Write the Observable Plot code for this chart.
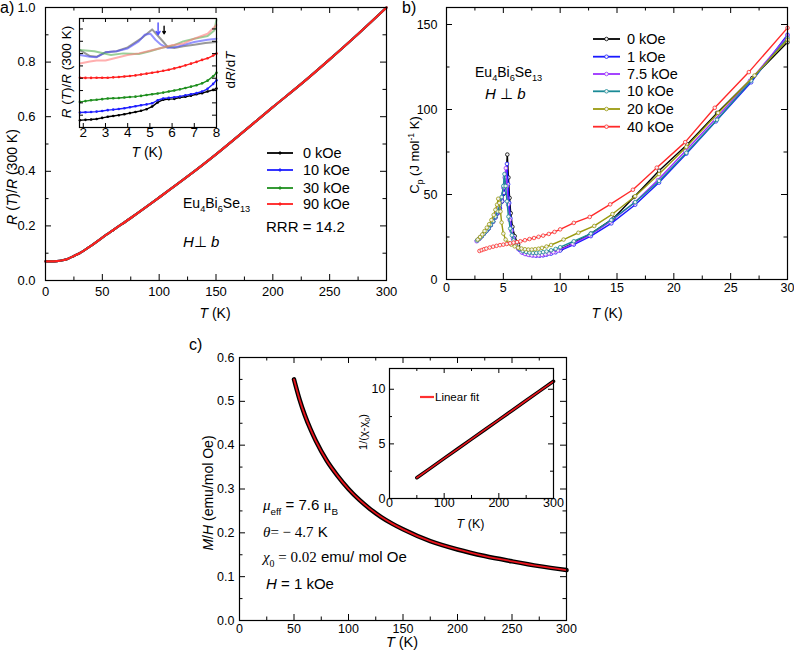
<!DOCTYPE html>
<html><head><meta charset="utf-8">
<script src="https://cdn.jsdelivr.net/npm/d3@7"></script>
<script src="https://cdn.jsdelivr.net/npm/@observablehq/plot@0.6"></script>
<style>body{margin:0;background:#fff}#fig{position:relative;width:794px;height:659px;background:#fff;overflow:hidden}</style>
</head><body><div id="fig"></div>
<script>
// ---------------- DATA ----------------
// Panel a: R(T)/R(300 K) vs T (all fields overlap)
const aFields = ["0 kOe", "10 kOe", "30 kOe", "90 kOe"];
const aColors = ["#000000", "#1f1fff", "#1f8f1f", "#ff1f1f"];
const aT = [0, 5, 10, 15, 20, 25, 30, 40, 50, 60, 75, 100, 125, 150, 175, 200, 225, 250, 275, 300];
const aR = [0.070, 0.070, 0.071, 0.074, 0.080, 0.090, 0.100, 0.127, 0.157, 0.186, 0.229, 0.304, 0.381, 0.462, 0.548, 0.635, 0.720, 0.810, 0.903, 1.000];
const aXTicks = [0, 50, 100, 150, 200, 250, 300];
const aYTicks = [0, 0.2, 0.4, 0.6, 0.8, 1.0];

// Panel a inset (arbitrary offset units): R(T)/R(300K) curves
const inT = [1.85, 2.1, 2.35, 2.6, 2.85, 3.1, 3.35, 3.6, 3.85, 4.1, 4.35, 4.6, 4.85, 5.1, 5.35, 5.6, 5.85, 6.1, 6.35, 6.6, 6.85, 7.1, 7.35, 7.6, 7.85, 8.0];
const inR0 = [0.67, 0.70, 0.73, 0.78, 0.88, 0.98, 1.05, 1.13, 1.22, 1.32, 1.42, 1.53, 1.68, 1.92, 2.30, 2.55, 2.60, 2.63, 2.75, 2.82, 2.92, 3.05, 3.15, 3.30, 3.45, 3.58];
const inR10 = [1.38, 1.40, 1.42, 1.46, 1.52, 1.59, 1.64, 1.70, 1.77, 1.86, 1.95, 2.04, 2.12, 2.22, 2.50, 2.66, 2.72, 2.78, 2.85, 2.95, 3.05, 3.15, 3.30, 3.55, 4.00, 4.34];
const inR30 = [2.35, 2.42, 2.50, 2.54, 2.60, 2.66, 2.68, 2.70, 2.75, 2.80, 2.83, 2.90, 2.98, 3.05, 3.12, 3.20, 3.30, 3.40, 3.50, 3.62, 3.75, 3.88, 4.05, 4.30, 4.70, 5.02];
const inR90 = [4.56, 4.55, 4.55, 4.56, 4.56, 4.57, 4.60, 4.63, 4.68, 4.72, 4.78, 4.86, 4.94, 5.02, 5.10, 5.20, 5.30, 5.42, 5.55, 5.70, 5.86, 6.02, 6.20, 6.35, 6.60, 6.79];
// dR/dT curves
const dT0 = [1.85, 2.3, 2.6, 3.0, 3.5, 4.0, 4.6, 5.1, 5.5, 5.8, 6.1, 6.5, 7.0, 7.5, 8.0];
const dV0 = [7.1, 6.55, 6.48, 6.9, 7.0, 7.35, 8.15, 9.0, 8.1, 7.4, 7.3, 7.45, 7.6, 7.75, 7.85];
const dT10 = [1.85, 2.3, 2.6, 3.0, 3.5, 4.0, 4.5, 4.76, 5.03, 5.25, 5.5, 5.8, 6.2, 7.0, 7.6, 8.0];
const dV10 = [6.65, 6.5, 6.45, 6.9, 7.0, 7.25, 7.9, 8.5, 8.6, 8.05, 7.6, 7.3, 7.4, 7.85, 8.05, 8.15];
const dT30 = [1.85, 2.5, 3.25, 3.8, 4.5, 5.0, 5.5, 6.1, 6.5, 7.0, 7.6, 7.9, 8.0];
const dV30 = [7.1, 7.0, 6.65, 6.8, 6.75, 7.0, 7.3, 7.55, 7.9, 8.15, 8.4, 8.9, 9.9];
const dT90 = [1.85, 2.3, 2.6, 3.0, 3.5, 4.0, 4.5, 5.0, 5.5, 6.0, 6.5, 7.0, 7.6, 8.0];
const dV90 = [5.87, 6.05, 6.15, 6.15, 6.4, 6.65, 6.8, 7.05, 7.3, 7.55, 7.7, 8.15, 8.6, 9.4];
const dColors = ["#555555", "#4d4dff", "#55b055", "#ff7a7a"];
const arrowT = [5.37, 5.64];
const arrowTop = [9.6, 9.3];
const arrowTip = [8.5, 8.6];
const arrowColors = ["#4d4dff", "#000000"];
const inXTicks = [2, 3, 4, 5, 6, 7, 8];
const inYTicks = [1.13, 2.26, 3.39, 4.52, 5.65, 6.78, 7.91, 9.04];

// Panel b: Cp vs T
const bFields = ["0 kOe", "1 kOe", "7.5 kOe", "10 kOe", "20 kOe", "40 kOe"];
const bColors = ["#000000", "#1a1aff", "#9b30ff", "#1a8a96", "#9a9a10", "#ff2a2a"];
const bT0 = [2.7, 2.9, 3.1, 3.3, 3.5, 3.7, 3.9, 4.1, 4.3, 4.5, 4.7, 4.9, 5.05, 5.2, 5.35, 5.45, 5.55, 5.65, 5.8, 6.0, 6.3, 6.6, 7.0, 7.4, 7.8, 8.2, 8.6, 9.0, 9.5, 10.1, 11.2, 12.7, 14.7, 16.5, 18.7, 21.2, 23.8, 26.9, 30.0];
const bC0 = [23, 24.2, 25.5, 27, 28.5, 30, 32, 34, 36.5, 39, 42, 46, 50.5, 57, 73.5, 60, 48, 39, 31, 25.5, 20.5, 17.5, 15.5, 14.8, 14.5, 14.6, 15, 15.5, 16.5, 18, 21.5, 27, 36, 48.5, 64, 79.5, 98, 118.5, 139.5];
const bT1 = [2.7, 2.9, 3.1, 3.3, 3.5, 3.7, 3.9, 4.1, 4.3, 4.5, 4.7, 4.9, 5.05, 5.2, 5.32, 5.42, 5.52, 5.62, 5.75, 5.9, 6.1, 6.4, 6.7, 7.0, 7.3, 7.6, 7.9, 8.2, 8.5, 8.8, 9.2, 9.6, 10.0, 11.2, 12.7, 14.5, 16.6, 18.7, 21.1, 23.7, 26.8, 30.0];
const bC1 = [23, 24.2, 25.5, 27, 28.5, 30, 32, 34, 36.5, 39, 42, 46, 51, 59, 68, 56, 45, 36, 29, 24.5, 20.5, 17.5, 15.8, 15, 14.5, 14.2, 14, 14, 14.2, 14.6, 15.2, 16, 17, 20.5, 25.5, 33, 44, 57, 74, 93, 116, 144];
const bT75 = [2.65, 2.85, 3.05, 3.25, 3.45, 3.65, 3.85, 4.05, 4.25, 4.45, 4.65, 4.85, 5.0, 5.12, 5.22, 5.32, 5.42, 5.55, 5.7, 5.85, 6.05, 6.3, 6.6, 6.9, 7.2, 7.5, 7.8, 8.1, 8.4, 8.7, 9.0, 9.4, 9.8, 11.1, 12.6, 14.4, 16.5, 18.6, 21.0, 23.6, 26.7, 30.0];
const bC75 = [22.5, 23.8, 25.2, 26.7, 28.2, 30, 32, 34, 36.5, 39.5, 43, 48, 54, 60, 65.5, 55, 44, 35, 28.5, 24, 20.5, 18, 16, 15, 14.5, 14.2, 14.1, 14.2, 14.4, 14.8, 15.3, 16, 17, 21, 26, 34, 45, 58.5, 75.5, 94, 117, 143];
const bT10 = [2.7, 2.9, 3.1, 3.3, 3.5, 3.7, 3.9, 4.1, 4.3, 4.5, 4.7, 4.85, 5.0, 5.1, 5.2, 5.32, 5.45, 5.6, 5.75, 5.9, 6.1, 6.4, 6.7, 7.0, 7.3, 7.6, 7.9, 8.2, 8.5, 8.8, 9.2, 9.6, 10.0, 11.2, 12.7, 14.5, 16.6, 18.7, 21.1, 23.8, 26.8, 30.0];
const bC10 = [23, 24.2, 25.5, 27, 28.5, 30.2, 32.2, 34.3, 37, 40, 44, 48.5, 55, 62, 55, 46, 37, 30, 26, 23, 20, 18, 16.8, 16.2, 15.8, 15.6, 15.6, 15.8, 16.1, 16.5, 17.2, 18, 19, 22.5, 27, 35, 45.5, 58, 74.5, 94, 117, 142];
const bT20 = [2.75, 2.95, 3.15, 3.35, 3.55, 3.75, 3.95, 4.15, 4.3, 4.45, 4.55, 4.65, 4.75, 4.85, 5.0, 5.2, 5.45, 5.7, 6.0, 6.3, 6.6, 6.9, 7.2, 7.5, 7.8, 8.1, 8.4, 8.8, 9.2, 10.3, 11.6, 13.0, 14.6, 16.6, 18.7, 21.1, 23.9, 27.1, 30.0];
const bC20 = [23.5, 25, 26.5, 28.5, 30.5, 32.5, 35, 38, 41, 44, 47.5, 45, 40, 33.5, 27, 23.5, 21.5, 20.5, 19.5, 18.7, 18.2, 17.8, 17.6, 17.6, 17.8, 18.1, 18.6, 19.4, 20.3, 23.5, 27.5, 31.5, 38.5, 49, 62, 78, 98, 120, 141];
const bT40 = [2.9, 3.1, 3.3, 3.5, 3.8, 4.1, 4.4, 4.7, 5.0, 5.3, 5.6, 5.9, 6.2, 6.5, 6.9, 7.3, 7.7, 8.1, 8.5, 9.0, 9.5, 10.0, 11.2, 12.6, 14.4, 16.4, 18.5, 21.0, 23.6, 26.6, 30.0];
const bC40 = [16.8, 17.3, 17.8, 18.2, 18.8, 19.3, 19.8, 20.2, 20.5, 20.9, 21.3, 21.7, 22.0, 22.5, 23.1, 23.8, 24.4, 25.1, 25.8, 26.8, 28.0, 29.5, 33.3, 36.8, 44.2, 52.8, 65.8, 80.8, 101, 122, 148];
const bXTicks = [0, 5, 10, 15, 20, 25, 30];
const bYTicks = [0, 50, 100, 150];

// Panel c: M/H vs T and inset 1/(chi-chi0)
const cT = [50, 55, 60, 65, 70, 80, 90, 100, 110, 120, 130, 140, 150, 175, 200, 225, 250, 275, 300];
const cMH = [0.550, 0.505, 0.468, 0.437, 0.410, 0.365, 0.330, 0.300, 0.275, 0.254, 0.236, 0.221, 0.208, 0.181, 0.162, 0.147, 0.135, 0.124, 0.115];
const cXTicks = [0, 50, 100, 150, 200, 250, 300];
const cYTicks = [0, 0.1, 0.2, 0.3, 0.4, 0.5, 0.6];
const ciT = [50, 75, 100, 125, 150, 175, 200, 225, 250, 275, 300];
const ciInv = [1.90, 2.78, 3.67, 4.55, 5.43, 6.32, 7.20, 8.08, 8.97, 9.85, 10.73];
const ciXTicks = [0, 100, 200, 300];
const ciYTicks = [0, 5, 10];

// ---------------- HELPERS ----------------
const SANS = "'Liberation Sans', Arial, Helvetica, sans-serif";
const SERIF = "'Liberation Serif', 'Times New Roman', serif";
const fig = document.getElementById("fig");
function place(el, left, top) {
  el.style.position = "absolute"; el.style.left = left + "px"; el.style.top = top + "px";
  el.style.overflow = "visible"; el.style.maxWidth = "none";
  fig.appendChild(el);
}
function frameTicks(pw, ph, {xMaj, xMin = [], yMaj, yMin = [], maj = 6, min = 3.5, sw = 1}) {
  const X = (v, len) => v.length ? [
    Plot.ruleX(v, {x: d => d, insetTop: ph - len, strokeWidth: sw}),
    Plot.ruleX(v, {x: d => d, insetBottom: ph - len, strokeWidth: sw})] : [];
  const Y = (v, len) => v.length ? [
    Plot.ruleY(v, {y: d => d, insetRight: pw - len, strokeWidth: sw}),
    Plot.ruleY(v, {y: d => d, insetLeft: pw - len, strokeWidth: sw})] : [];
  return [...X(xMaj, maj), ...X(xMin, min), ...Y(yMaj, maj), ...Y(yMin, min)];
}
function xLabels(vals, fmt, dy, size) {
  return Plot.text(vals, {x: d => d, frameAnchor: "bottom", dy, text: d => fmt(d), fontSize: size, fill: "black"});
}
function yLabels(vals, fmt, dx, size) {
  return Plot.text(vals, {y: d => d, frameAnchor: "left", dx, textAnchor: "end", text: d => fmt(d), fontSize: size, fill: "black"});
}
function rich(svg, x, y, parts, {size = 14, anchor = "start", rotate = 0, family = SANS} = {}) {
  const t = d3.select(svg).append("text")
    .attr("transform", `translate(${x},${y})` + (rotate ? ` rotate(${rotate})` : ""))
    .attr("text-anchor", anchor)
    .style("font-size", size + "px").style("font-family", family)
    .attr("fill", "black").style("white-space", "pre");
  let cur = 0;
  for (const p of parts) {
    const [s, st = {}] = Array.isArray(p) ? p : [p];
    const fs = (st.sub || st.sup) ? size * 0.66 : size;
    const off = st.sub ? size * 0.3 : st.sup ? -size * 0.4 : 0;
    const ts = t.append("tspan").text(s).attr("dy", off - cur).style("font-size", fs + "px");
    cur = off;
    if (st.i) ts.style("font-style", "italic");
    if (st.f) ts.style("font-family", st.f);
  }
  return t;
}
function legendRow(svg, x1, x2, y, color, {r = 0, sw = 1.6, marker = "dot"} = {}) {
  const g = d3.select(svg).append("g");
  g.append("line").attr("x1", x1).attr("x2", x2).attr("y1", y).attr("y2", y).attr("stroke", color).attr("stroke-width", sw);
  if (r) g.append("circle").attr("cx", (x1 + x2) / 2).attr("cy", y).attr("r", r)
    .attr("fill", marker === "open" ? "#f4f4f4" : color).attr("stroke", color).attr("stroke-width", 0.8);
}
const baseStyle = {background: "transparent", fontFamily: SANS, overflow: "visible", color: "black"};
const f1 = d3.format(".1f");

// ---------------- PANEL A ----------------
{
  const W = 400, H = 325, mL = 45, mR = 14, mT = 7, mB = 45;
  const rows = aT.map((T, i) => ({T, R: aR[i]}));
  const svg = Plot.plot({
    width: W, height: H, marginLeft: mL, marginRight: mR, marginTop: mT, marginBottom: mB,
    x: {domain: [0, 300], axis: null}, y: {domain: [0, 1], axis: null},
    style: baseStyle,
    marks: [
      ...aFields.map((f, k) => Plot.line(rows, {x: "T", y: "R", stroke: aColors[k], strokeWidth: 2.2, curve: "monotone-x"})),
      Plot.frame({strokeWidth: 1.2}),
      ...frameTicks(W - mL - mR, H - mT - mB, {xMaj: aXTicks, xMin: [25, 75, 125, 175, 225, 275], yMaj: aYTicks, yMin: [0.1, 0.3, 0.5, 0.7, 0.9]}),
      xLabels(aXTicks, d => d, 15, 13),
      yLabels(aYTicks, f1, -10, 13)
    ]
  });
  place(svg, 0, 0);
  rich(svg, 0, 13, ["a)"], {size: 16});
  rich(svg, 17, 177, [["R", {i: 1}], " (", ["T", {i: 1}], ")/", ["R", {i: 1}], " (300 K)"], {size: 14, anchor: "middle", rotate: -90});
  rich(svg, 215, 318, [["T", {i: 1}], " (K)"], {size: 14, anchor: "middle"});
  const ly = [153, 170, 188, 204];
  aFields.forEach((f, k) => {
    legendRow(svg, 267, 293, ly[k], aColors[k], {r: 1.2, sw: 1.8});
    rich(svg, 303, ly[k] + 5, [f], {size: 14.5});
  });
  rich(svg, 183, 208, ["Eu", ["4", {sub: 1}], "Bi", ["6", {sub: 1}], "Se", ["13", {sub: 1}]], {size: 14});
  rich(svg, 266, 232, ["RRR = 14.2"], {size: 15});
  rich(svg, 183, 247, [["H", {i: 1}], "⊥ ", ["b", {i: 1}]], {size: 15});
}
// ---------------- PANEL A INSET ----------------
{
  const W = 200, H = 160, mL = 29, mR = 34, mT = 18, mB = 33;
  const mk = (T, V) => T.map((t, i) => ({T: t, v: V[i]}));
  const low = [inR0, inR10, inR30, inR90].map(V => mk(inT, V));
  const der = [mk(dT0, dV0), mk(dT10, dV10), mk(dT30, dV30), mk(dT90, dV90)];
  const arrows = arrowT.map((t, i) => ({T: t, y1: arrowTop[i], y2: arrowTip[i], c: arrowColors[i]}));
  const svg = Plot.plot({
    width: W, height: H, marginLeft: mL, marginRight: mR, marginTop: mT, marginBottom: mB,
    x: {domain: [1.83, 8.0], axis: null}, y: {domain: [0, 10], axis: null},
    style: baseStyle,
    marks: [
      ...der.map((d, k) => Plot.line(d, {x: "T", y: "v", stroke: dColors[k], strokeWidth: 2, strokeOpacity: 0.6})),
      ...low.map((d, k) => Plot.line(d, {x: "T", y: "v", stroke: aColors[k], strokeWidth: 1.4})),
      ...low.map((d, k) => Plot.dot(d, {x: "T", y: "v", fill: aColors[k], r: 1.3})),
      Plot.arrow(arrows, {x1: "T", x2: "T", y1: "y1", y2: "y2", stroke: "c", strokeWidth: 1.4, headLength: 5}),
      Plot.frame({strokeWidth: 1.2}),
      ...frameTicks(W - mL - mR, H - mT - mB, {xMaj: inXTicks, yMaj: inYTicks, maj: 4}),
      xLabels(inXTicks, d => d, 9, 13.5)
    ]
  });
  place(svg, 50, 0);
  rich(svg, 21, 72, [["R", {i: 1}], " (", ["T", {i: 1}], ")/", ["R", {i: 1}], " (300 K)"], {size: 13.5, anchor: "middle", rotate: -90});
  rich(svg, 184.5, 70, ["d", ["R", {i: 1}], "/d", ["T", {i: 1}]], {size: 13.5, anchor: "middle", rotate: -90});
  rich(svg, 97, 157, [["T", {i: 1}], " (K)"], {size: 14, anchor: "middle"});
}
// ---------------- PANEL B ----------------
{
  const W = 394, H = 325, mL = 46, mR = 7, mT = 7, mB = 46;
  const series = [[bT0, bC0], [bT1, bC1], [bT75, bC75], [bT10, bC10], [bT20, bC20], [bT40, bC40]]
    .map(([T, C]) => T.map((t, i) => ({T: t, C: C[i]})));
  const order = [0, 1, 2, 3, 4, 5];
  const svg = Plot.plot({
    width: W, height: H, marginLeft: mL, marginRight: mR, marginTop: mT, marginBottom: mB,
    x: {domain: [0, 30], axis: null}, y: {domain: [0, 160], axis: null},
    style: baseStyle,
    marks: [
      ...order.flatMap(k => [
        Plot.line(series[k], {x: "T", y: "C", stroke: bColors[k], strokeWidth: 1.4}),
        Plot.dot(series[k], {x: "T", y: "C", stroke: bColors[k], fill: "#f2f2f2", r: 1.8, strokeWidth: 0.8})
      ]),
      Plot.frame({strokeWidth: 1.2}),
      ...frameTicks(W - mL - mR, H - mT - mB, {xMaj: bXTicks, xMin: [2.5, 7.5, 12.5, 17.5, 22.5, 27.5], yMaj: bYTicks, yMin: [25, 75, 125]}),
      xLabels(bXTicks, d => d, 12, 12.5),
      yLabels(bYTicks, d => d, -9, 12.5)
    ]
  });
  place(svg, 400, 0);
  rich(svg, 2, 13, ["b)"], {size: 16});
  rich(svg, 19, 155, ["C", ["p", {sub: 1}], " (J mol", ["-1", {sup: 1}], " K)"], {size: 13, anchor: "middle", rotate: -90});
  rich(svg, 207, 318, [["T", {i: 1}], " (K)"], {size: 14, anchor: "middle"});
  const ly = [39, 56.7, 74, 91.3, 109, 126.7];
  bFields.forEach((f, k) => {
    legendRow(svg, 193, 220, ly[k], bColors[k], {r: 1.8, sw: 1.8, marker: "open"});
    rich(svg, 227, ly[k] + 5, [f], {size: 14.5});
  });
  rich(svg, 75, 77, ["Eu", ["4", {sub: 1}], "Bi", ["6", {sub: 1}], "Se", ["13", {sub: 1}]], {size: 14});
  rich(svg, 85, 99, [["H", {i: 1}], " ⊥ ", ["b", {i: 1}]], {size: 15});
}
// ---------------- PANEL C ----------------
{
  const W = 440, H = 329, mL = 89, mR = 24, mT = 27, mB = 39;
  const rows = cT.map((T, i) => ({T, m: cMH[i]}));
  const svg = Plot.plot({
    width: W, height: H, marginLeft: mL, marginRight: mR, marginTop: mT, marginBottom: mB,
    x: {domain: [0, 300], axis: null}, y: {domain: [0, 0.6], axis: null},
    style: baseStyle,
    marks: [
      Plot.line(rows, {x: "T", y: "m", stroke: "black", strokeWidth: 4.5, curve: "monotone-x"}),
      Plot.line(rows, {x: "T", y: "m", stroke: "#e8141c", strokeWidth: 1.8, curve: "monotone-x"}),
      Plot.frame({strokeWidth: 1.2}),
      ...frameTicks(W - mL - mR, H - mT - mB, {xMaj: cXTicks, xMin: [25, 75, 125, 175, 225, 275], yMaj: cYTicks, yMin: [0.05, 0.15, 0.25, 0.35, 0.45, 0.55]}),
      xLabels(cXTicks, d => d, 12, 12.5),
      yLabels(cYTicks, f1, -5, 12.5)
    ]
  });
  place(svg, 150, 330);
  rich(svg, 39, 20, ["c)"], {size: 16});
  rich(svg, 63, 163, [["M", {i: 1}], "/", ["H", {i: 1}], " (emu/mol Oe)"], {size: 14, anchor: "middle", rotate: -90});
  rich(svg, 252, 317, [["T", {i: 1}], " (K)"], {size: 14.5, anchor: "middle"});
  rich(svg, 113, 180, [["μ", {i: 1, f: SERIF}], ["eff", {sub: 1}], " = 7.6 ", ["μ", {f: SERIF}], ["B", {sub: 1}]], {size: 15});
  rich(svg, 113, 207, [["θ", {i: 1, f: SERIF}], ["= − 4.7", {f: SERIF}], " K"], {size: 15});
  rich(svg, 113, 232, [["χ", {i: 1, f: SERIF}], ["0", {sub: 1, f: SERIF}], [" = 0.02", {f: SERIF}], " emu/ mol Oe"], {size: 15});
  rich(svg, 116, 259, [["H", {i: 1}], " = 1 kOe"], {size: 15});
}
// ---------------- PANEL C INSET ----------------
{
  const W = 210, H = 180, mL = 34, mR = 12, mT = 13, mB = 37;
  const rows = ciT.map((T, i) => ({T, v: ciInv[i]}));
  const svg = Plot.plot({
    width: W, height: H, marginLeft: mL, marginRight: mR, marginTop: mT, marginBottom: mB,
    x: {domain: [0, 300], axis: null}, y: {domain: [0, 11.9], axis: null},
    style: baseStyle,
    marks: [
      Plot.line(rows, {x: "T", y: "v", stroke: "black", strokeWidth: 3.5}),
      Plot.line(rows, {x: "T", y: "v", stroke: "#e8141c", strokeWidth: 1.6}),
      Plot.frame({strokeWidth: 1.2}),
      ...frameTicks(W - mL - mR, H - mT - mB, {xMaj: ciXTicks, xMin: [50, 150, 250], yMaj: ciYTicks, yMin: [2.5, 7.5], maj: 5, min: 3}),
      xLabels(ciXTicks, d => d, 8, 12.5),
      yLabels(ciYTicks, d => d, -4, 12.5)
    ]
  });
  place(svg, 355, 355);
  rich(svg, 12, 77, ["1/(χ-χ", ["0", {sub: 1}], ")"], {size: 11, anchor: "middle", rotate: -90});
  rich(svg, 115.5, 172.5, [["T", {i: 1}], " (K)"], {size: 12.5, anchor: "middle"});
  legendRow(svg, 65, 79, 42, "#ff3030", {sw: 2.2});
  rich(svg, 80, 46, ["Linear fit"], {size: 11.5});
}
</script></body></html>
